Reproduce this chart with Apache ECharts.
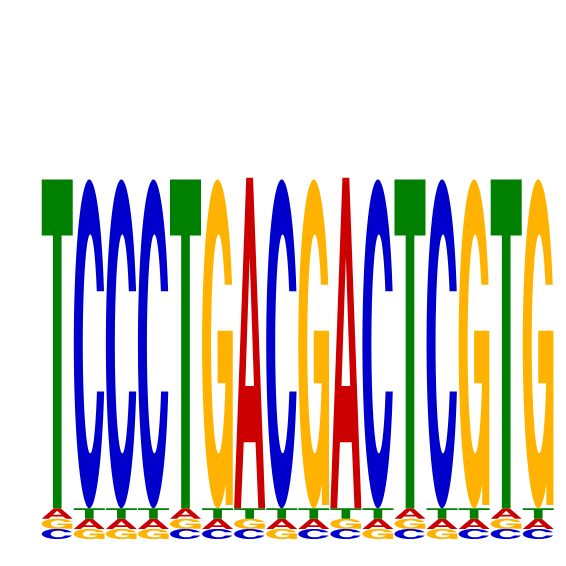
<!DOCTYPE html>
<html>
<head>
<meta charset="utf-8">
<script src="https://cdn.jsdelivr.net/npm/echarts@6/dist/echarts.min.js"></script>
<style>html,body{margin:0;padding:0;background:#fff;}#chart{width:566px;height:566px;}</style>
</head>
<body>
<div id="chart"></div>
<script>
// Positions of the motif
const positions = ['1','2','3','4','5','6','7','8','9','10','11','12','13','14','15','16'];
// Letter heights (bits) per position
const heightsA = [0.058,0.057,0.057,0.057,0.058,0.057,1.84,0.057,0.057,1.84,0.057,0.058,0.057,0.057,0.058,0.057];
const heightsC = [0.056,1.83,1.83,1.83,0.056,0.056,0.056,1.83,0.056,0.056,1.83,0.056,1.83,0.056,0.056,0.056];
const heightsG = [0.057,0.056,0.056,0.056,0.057,1.83,0.057,0.056,1.83,0.057,0.056,0.057,0.056,1.83,0.057,1.83];
const heightsT = [1.83,0.058,0.058,0.058,1.83,0.058,0.058,0.058,0.058,0.058,0.058,1.83,0.058,0.058,1.83,0.058];
const letters = ['A','C','G','T'];
const letterColors = {A:'#CC0000', C:'#0000CC', G:'#FFB300', T:'#008000'};

// ---- Glyph outlines in a 100x100 box (y down) ----
function pts2path(pts){ return 'M' + pts.map(p => p[0].toFixed(2)+' '+p[1].toFixed(2)).join(' L') + ' Z'; }
function arc(cx, cy, rx, ry, t0, t1, n){
  const out = [];
  for (let i=0;i<=n;i++){ const t = t0 + (t1-t0)*i/n; out.push([cx+rx*Math.cos(t), cy+ry*Math.sin(t)]); }
  return out;
}
const OUT = {cx:50, cy:50, rx:50, ry:50};
const INN = {cx:53, cy:50, rx:24, ry:33.3};
function outerAtY(y, lower){ const s=(y-OUT.cy)/OUT.ry; return lower ? Math.asin(s) : 2*Math.PI + Math.asin(s); }
function innerAtY(y, lower){ const s=(y-INN.cy)/INN.ry; return lower ? Math.asin(s) : 2*Math.PI + Math.asin(s); }

function glyphC(){
  const yLow = 64.5, yUp = 34;
  const o = arc(OUT.cx,OUT.cy,OUT.rx,OUT.ry, outerAtY(yLow,true), outerAtY(yUp,false), 160);
  const i = arc(INN.cx,INN.cy,INN.rx,INN.ry, innerAtY(yUp,false), innerAtY(yLow,true), 160);
  return pts2path(o.concat(i));
}
function glyphG(){
  const yUp = 32, barTop = 46, barBot = 62, stemX = 76, rightX = 99, spurY = 99;
  const tStart = Math.acos((stemX-OUT.cx)/OUT.rx);
  const o = arc(OUT.cx,OUT.cy,OUT.rx,OUT.ry, tStart, outerAtY(yUp,false), 160);
  const i = arc(INN.cx,INN.cy,INN.rx,INN.ry, innerAtY(yUp,false), innerAtY(barBot,true), 160);
  const pts = [[rightX,barTop],[rightX,spurY],[stemX,spurY]].concat(o, i, [[50,barBot],[50,barTop]]);
  return pts2path(pts);
}
const glyphs = {
  A: pts2path([[0,100],[39,0],[61,0],[100,100],[78,100],[69,80],[31,80],[22,100]]) + ' ' + pts2path([[36,63],[64,63],[50,24]]),
  T: pts2path([[0,0],[100,0],[100,17],[64,17],[64,100],[36,100],[36,17],[0,17]]),
  C: glyphC(),
  G: glyphG()
};

// Build stacked items: [position index, letter index, bottom, top]
const heightsBy = {A:heightsA, C:heightsC, G:heightsG, T:heightsT};
const items = [];
positions.forEach((p, i) => {
  const col = letters.map((L, li) => ({L, li, h: heightsBy[L][i]})).sort((a,b) => a.h - b.h);
  let base = 0;
  col.forEach(c => { items.push([i, c.li, base, base + c.h]); base += c.h; });
});

const chart = echarts.init(document.getElementById('chart'), null, {renderer:'canvas'});
chart.setOption({
  animation: false,
  backgroundColor: '#ffffff',
  grid: {left: 41.2, right: 11.7, top: 0, bottom: 27},
  xAxis: {type:'category', data: positions, show: false},
  yAxis: {type:'value', min: 0, max: 3, show: false},
  series: [{
    type: 'custom',
    data: items,
    encode: {x: 0, y: [2,3]},
    renderItem: function(params, api){
      const idx = api.value(0), L = letters[api.value(1)];
      const b = api.coord([idx, api.value(2)]);
      const t = api.coord([idx, api.value(3)]);
      const w = api.size([1,0])[0] * 0.967;
      const h = b[1] - t[1];
      return {
        type: 'path',
        x: b[0] - w/2, y: t[1],
        scaleX: w/100, scaleY: h/100,
        shape: {pathData: glyphs[L]},
        style: {fill: letterColors[L], stroke: null}
      };
    }
  }]
});
</script>
</body>
</html>
